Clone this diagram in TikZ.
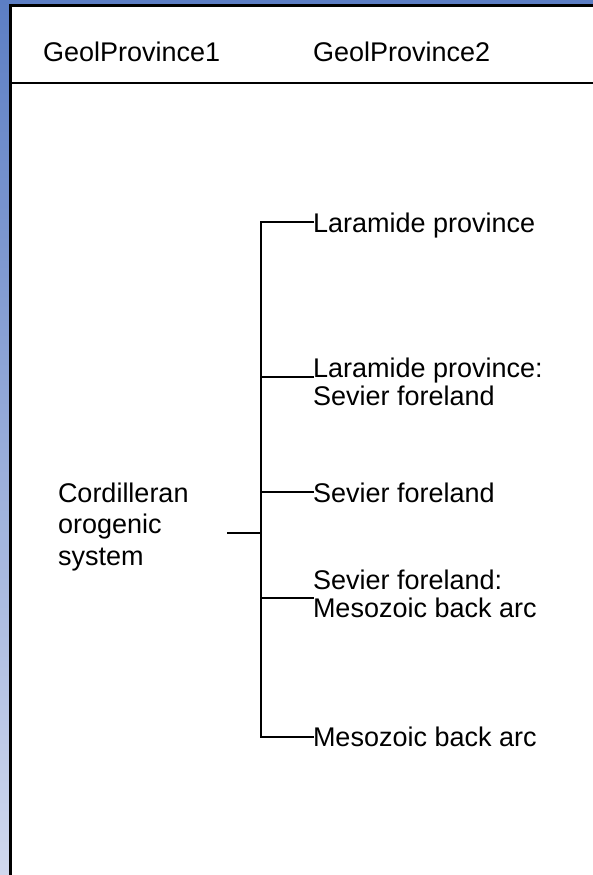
\documentclass[tikz,border=0pt]{standalone}
\usepackage{fontspec}
\setmainfont{Liberation Sans}
\begin{document}
\begin{tikzpicture}[x=1pt,y=-1pt,
  lbl/.style={anchor=base west,inner sep=0pt,outer sep=0pt,font=\fontsize{27}{28}\selectfont,align=left},
  conn/.style={line width=2pt,line cap=rect},
  frame/.style={line width=3pt}]
\useasboundingbox (0,0) rectangle (593,875);
% background gradient strips
\shade[top color={rgb,255:red,92;green,126;blue,196},bottom color={rgb,255:red,208;green,216;blue,238}] (0,0) rectangle (593,875);
\fill[white] (12,7) rectangle (593,875);
\draw[frame] (10.5,875) -- (10.5,5.5) -- (593,5.5);
\draw[line width=2pt] (12,83) -- (593,83);
% header
\node[lbl] (h1) at (43,62) {GeolProvince1};
\node[lbl] (h2) at (313,62) {GeolProvince2};
% root (base anchor = last line)
\node[lbl,font=\fontsize{27}{31.5}\selectfont] (root) at (58,565) {Cordilleran\\orogenic\\system};
% children
\node[lbl] (c1) at (313,232) {Laramide province};
\node[lbl] (c2) at (313,405) {Laramide province:\\Sevier foreland};
\node[lbl] (c3) at (313,502) {Sevier foreland};
\node[lbl] (c4) at (313,617) {Sevier foreland:\\Mesozoic back arc};
\node[lbl] (c5) at (313,746) {Mesozoic back arc};
% spine coordinates
\coordinate (stub) at (228,533);
\coordinate (sp0) at (261,533);
\coordinate (s1) at (261,222);
\coordinate (s2) at (261,377);
\coordinate (s3) at (261,492);
\coordinate (s4) at (261,598);
\coordinate (s5) at (261,737);
\draw[conn] (stub) -- (sp0);
\draw[conn] (s1) -- (s5);
\draw[conn] (s1) -- (s1 -| c1.west);
\draw[conn] (s2) -- (s2 -| c2.west);
\draw[conn] (s3) -- (s3 -| c3.west);
\draw[conn] (s4) -- (s4 -| c4.west);
\draw[conn] (s5) -- (s5 -| c5.west);
\end{tikzpicture}
\end{document}
